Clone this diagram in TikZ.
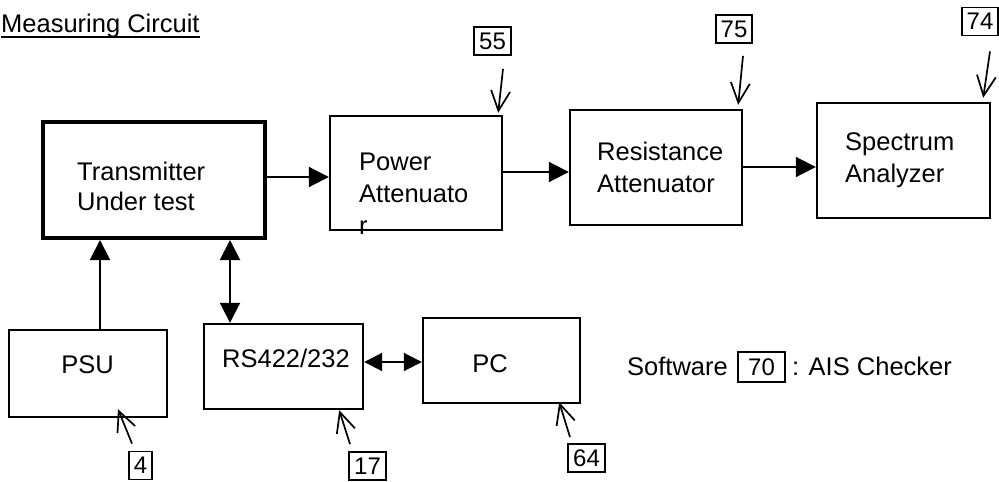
\documentclass[tikz,border=0pt]{standalone}
\usepackage{fontspec}
\setmainfont{Liberation Sans}
\usetikzlibrary{arrows.meta,calc}
\begin{document}
\begin{tikzpicture}[x=1pt,y=-1pt,
  blk/.style={draw, line width=2.4pt, inner sep=0pt},
  txt/.style={inner sep=0pt, font=\fontsize{25.5}{32}\selectfont},
  lbl/.style={draw, line width=1.8pt, inner xsep=5pt, inner ysep=0pt, minimum height=28pt, font=\fontsize{24}{28}\selectfont},
  conn/.style={line width=2pt, -{Triangle[length=20pt,width=20pt]}},
  dconn/.style={line width=2pt, {Triangle[length=20pt,width=20pt]}-{Triangle[length=20pt,width=20pt]}},
  ptr/.style={line width=1.7pt, -{Straight Barb[length=20pt,width=19pt]}}]
\useasboundingbox (0,0) rectangle (999,482);

% title
\node[txt, anchor=base west] (title) at (1,32) {Measuring Circuit};
\draw[line width=2pt] (title.south west) -- (title.south east);

% boxes
\node[blk, line width=4pt, minimum width=222pt, minimum height=116pt] (tx) at (154,180) {};
\node[blk, minimum width=172pt, minimum height=114pt] (pa) at (416,173) {};
\node[blk, minimum width=172pt, minimum height=115pt] (ra) at (656,167.5) {};
\node[blk, minimum width=173pt, minimum height=115pt] (sa) at (903.5,160.5) {};
\node[blk, minimum width=158pt, minimum height=87pt] (psu) at (88,373.5) {};
\node[blk, minimum width=159pt, minimum height=85pt] (rs) at (283.5,366.5) {};
\node[blk, minimum width=157pt, minimum height=85pt] (pc) at (501.5,360.5) {};

% box texts
\node[txt, align=left, anchor=north west, font=\fontsize{25.5}{30}\selectfont] (txt-tx) at (77,162) {Transmitter\\Under test};
\node[txt, align=left, anchor=north west] (txt-pa) at (359,153) {Power\\Attenuato\\r};
\node[txt, align=left, anchor=north west] (txt-ra) at (597,142) {Resistance\\Attenuator};
\node[txt, align=left, anchor=north west] (txt-sa) at (845,132) {Spectrum\\Analyzer};
\node[txt, anchor=base] (txt-psu) at (87.5,373) {PSU};
\node[txt, anchor=base] (txt-rs) at (286,367) {RS422/232};
\node[txt, anchor=base] (txt-pc) at (490,372) {PC};

% software note
\node[txt, anchor=base west] (sw) at (627,375) {Software};
\node[lbl, inner xsep=10pt, minimum height=30pt] (l70) at (761.5,367) {70};
\node[txt, anchor=base west] (ais) at (792,375) {: AIS Checker};

% reference labels
\node[lbl] (l55) at (492.5,41) {55};
\node[lbl] (l75) at (734,29) {75};
\node[lbl] (l74) at (980,21.5) {74};
\node[lbl] (l4) at (140.5,465.5) {4};
\node[lbl] (l17) at (367.5,466) {17};
\node[lbl] (l64) at (586.5,458) {64};

% connectors
\draw[conn] ([yshift=3pt]tx.east) -- ([yshift=3pt]tx.east -| pa.west);
\draw[conn] ([yshift=1pt]pa.east) -- ([yshift=1pt]pa.east -| ra.west);
\draw[conn] ([yshift=0.5pt]ra.east) -- ([yshift=0.5pt]ra.east -| sa.west);
\draw[conn] ([xshift=12pt]psu.north) -- ([xshift=12pt]psu.north |- tx.south);
\draw[dconn] ([xshift=-53.5pt]rs.north) -- ([xshift=-53.5pt]rs.north |- tx.south);
\draw[line width=2pt, {Triangle[length=18pt,width=18pt]}-{Triangle[length=18pt,width=18pt]}] ([yshift=4.5pt]rs.east) -- ([yshift=4.5pt]rs.east -| pc.west);

% pointers
\draw[ptr] ($(l55.south)+(10.5,13)$) -- ($(pa.north east)+(-5,-2)$);
\draw[ptr] ($(l75.south)+(9,12)$) -- ($(ra.north east)+(-5,-4)$);
\draw[ptr] ($(l74.south)+(10,15)$) -- ($(sa.north east)+(-8,-4)$);
\draw[ptr] ($(l4.north)+(-8.5,-7)$) -- ($(psu.south)+(30,-9)$);
\draw[ptr] ($(l17.north)+(-17.5,-7)$) -- ($(rs.south east)+(-25,0)$);
\draw[ptr] ($(l64.north)+(-16.5,-6)$) -- ($(pc.south east)+(-22,-2)$);
\end{tikzpicture}
\end{document}
